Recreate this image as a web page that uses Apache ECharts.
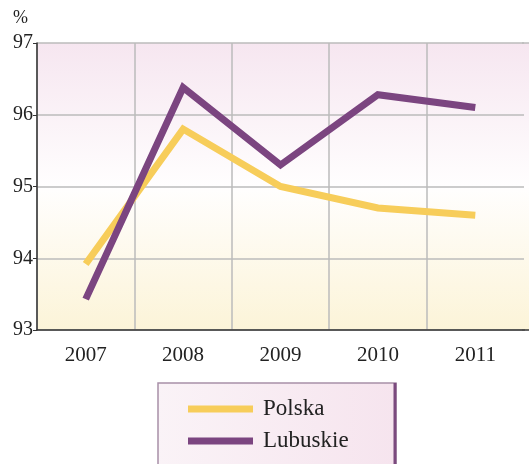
<!DOCTYPE html>
<html>
<head>
<meta charset="utf-8">
<script src="https://cdn.jsdelivr.net/npm/echarts@6/dist/echarts.min.js"></script>
<style>
  html, body { margin: 0; padding: 0; background: #fff; }
  #chart { width: 529px; height: 464px; }
</style>
</head>
<body>
<div id="chart"></div>
<script>
const years = ['2007', '2008', '2009', '2010', '2011']
const polska = [93.92, 95.8, 95.0, 94.7, 94.6]
const lubuskie = [93.43, 96.38, 95.3, 96.28, 96.1]
const seriesNames = ['Polska', 'Lubuskie']

const font = '"Liberation Serif", "Times New Roman", serif'
const chart = echarts.init(document.getElementById('chart'), null, { renderer: 'canvas' })

const bgGradient = () => new echarts.graphic.LinearGradient(0, 0, 0, 1, [
  { offset: 0, color: '#f6e6f0' },
  { offset: 0.5, color: '#fffefe' },
  { offset: 1, color: '#fcf4d8' }
])

const option = {
  animation: false,
  color: ['#f7cd5a', '#7b4580'],
  grid: {
    left: 37,
    top: 43,
    right: 5,
    bottom: 134,
    show: true,
    borderWidth: 0,
    backgroundColor: bgGradient()
  },
  graphic: [
    {
      type: 'text',
      left: 13,
      top: 9,
      style: { text: '%', font: '18px ' + font, fill: '#222' }
    },
    // plot area continues past the right edge of the picture
    {
      type: 'rect',
      shape: { x: 523, y: 43, width: 6, height: 287 },
      style: { fill: bgGradient() },
      z: -1
    },
    {
      type: 'line',
      shape: { x1: 522, y1: 330, x2: 529, y2: 330 },
      style: { stroke: '#333', lineWidth: 1.5 }
    },
    {
      type: 'line',
      shape: { x1: 522, y1: 43, x2: 529, y2: 43 },
      style: { stroke: '#bbb', lineWidth: 1.5 }
    },
    {
      type: 'rect',
      shape: { x: 158, y: 383, width: 238, height: 100 },
      style: {
        fill: new echarts.graphic.LinearGradient(0, 0, 1, 0, [
          { offset: 0, color: '#faf3f7' },
          { offset: 1, color: '#f6e4ee' }
        ]),
        stroke: '#a890a8',
        lineWidth: 1.5
      },
      z: 0
    },
    {
      type: 'line',
      shape: { x1: 395, y1: 383, x2: 395, y2: 464 },
      style: { stroke: '#7b4a7e', lineWidth: 3 },
      z: 1
    }
  ],
  legend: {
    data: seriesNames,
    orient: 'vertical',
    left: 188,
    top: 397,
    padding: 0,
    icon: 'rect',
    itemWidth: 65,
    itemHeight: 7,
    itemGap: 8,
    textStyle: { fontFamily: font, fontSize: 23, color: '#222', lineHeight: 24, padding: [0, 0, 0, 5] },
    z: 5
  },
  xAxis: {
    type: 'category',
    data: years,
    boundaryGap: true,
    axisLine: { show: true, lineStyle: { color: '#333', width: 1.5 } },
    axisTick: { show: false },
    axisLabel: { fontFamily: font, fontSize: 21, color: '#222', margin: 15 },
    splitLine: { show: true, showMaxLine: false, lineStyle: { color: '#bbb', width: 1.5 } }
  },
  yAxis: {
    type: 'value',
    min: 93,
    max: 97,
    interval: 1,
    axisLine: { show: true, lineStyle: { color: '#333', width: 1.5 } },
    axisTick: { show: true, length: 4, lineStyle: { color: '#333' } },
    axisLabel: { fontFamily: font, fontSize: 20, color: '#222', margin: 4 },
    splitLine: { show: true, lineStyle: { color: '#bbb', width: 1.5 } }
  },
  series: [
    {
      name: seriesNames[0],
      type: 'line',
      data: polska,
      symbol: 'none',
      lineStyle: { width: 7, cap: 'butt', join: 'miter' },
      z: 3
    },
    {
      name: seriesNames[1],
      type: 'line',
      data: lubuskie,
      symbol: 'none',
      lineStyle: { width: 7, cap: 'butt', join: 'miter' },
      z: 4
    }
  ]
}

chart.setOption(option)
</script>
</body>
</html>
